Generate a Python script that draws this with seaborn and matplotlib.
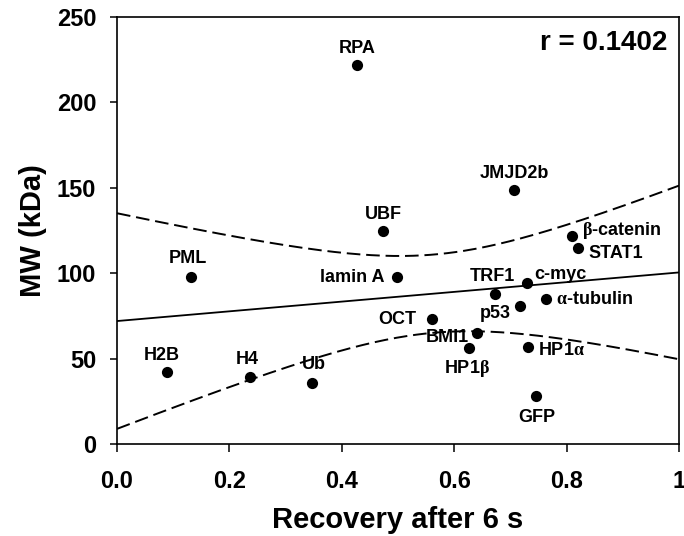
import numpy as np
import pandas as pd
import matplotlib
matplotlib.use("Agg")
import matplotlib.pyplot as plt
import seaborn as sns

# values
proteins = ["RPA", "JMJD2b", "UBF", "β-catenin", "STAT1", "PML", "lamin A",
            "TRF1", "c-myc", "α-tubulin", "p53", "OCT", "BMI1", "HP1β",
            "HP1α", "H2B", "H4", "Ub", "GFP"]
recovery = [0.427, 0.707, 0.474, 0.810, 0.820, 0.132, 0.498, 0.673, 0.729,
            0.764, 0.717, 0.560, 0.640, 0.627, 0.731, 0.089, 0.236, 0.347, 0.745]
mw = [222, 149, 125, 122, 115, 98, 98, 88, 94, 85, 81, 73, 65, 56, 57,
      42, 39, 36, 28]
r_text = "r = 0.1402"

x_ticks = [0.0, 0.2, 0.4, 0.6, 0.8, 1.0]
x_tick_labels = ["0.0", "0.2", "0.4", "0.6", "0.8", "1"]
y_ticks = [0, 50, 100, 150, 200, 250]

# label placement: (dx px, dy px downward, alignment)
label_pos = {
    "RPA": (0, -16, "center"), "JMJD2b": (0, -16, "center"),
    "UBF": (0, -16, "center"), "β-catenin": (10, -5, "left"),
    "STAT1": (11, 6, "left"), "PML": (-3, -18, "center"),
    "lamin A": (-12, 1, "right"), "TRF1": (-3, -17, "center"),
    "c-myc": (8, -9, "left"), "α-tubulin": (10, 1, "left"),
    "p53": (-9, 8, "right"), "OCT": (-15, 0, "right"),
    "BMI1": (-8, 5, "right"), "HP1β": (-2, 20, "center"),
    "HP1α": (10, 4, "left"), "H2B": (-5, -17, "center"),
    "H4": (-2, -18, "center"), "Ub": (2, -18, "center"),
    "GFP": (1, 21, "center"),
}

sns.set_style("ticks")
plt.rcParams["font.family"] = ["Liberation Sans", "DejaVu Sans"]
plt.rcParams["font.weight"] = "bold"
plt.rcParams["mathtext.fontset"] = "custom"
plt.rcParams["mathtext.rm"] = "Liberation Serif"
plt.rcParams["mathtext.it"] = "Liberation Serif"
for key in ["text.color", "axes.labelcolor", "xtick.color", "ytick.color"]:
    plt.rcParams[key] = "black"

df = pd.DataFrame({"protein": proteins, "recovery": recovery, "mw": mw})

# linear fit with 95% confidence band of the mean
x = df["recovery"].values
y = df["mw"].values
n = len(x)
slope, intercept = np.polyfit(x, y, 1)
resid = y - (intercept + slope * x)
s = np.sqrt((resid ** 2).sum() / (n - 2))
sxx = ((x - x.mean()) ** 2).sum()
t_val = 2.110  # t(0.975, df=17)
xg = np.linspace(0, 1, 200)
fit = intercept + slope * xg
hw = t_val * s * np.sqrt(1 / n + (xg - x.mean()) ** 2 / sxx)
band = pd.DataFrame({"x": xg, "fit": fit, "lo": fit - hw, "hi": fit + hw})

fig = plt.figure(figsize=(6.84, 5.36), dpi=100)
ax = fig.add_axes([117 / 684, 1 - 444 / 536, 562 / 684, 427 / 536])

sns.lineplot(data=band, x="x", y="fit", ax=ax, color="black", lw=1.3, estimator=None)
for col in ["hi", "lo"]:
    sns.lineplot(data=band, x="x", y=col, ax=ax, color="black", lw=1.4, estimator=None)
    ax.lines[-1].set_dashes([7, 3])

sns.scatterplot(data=df, x="recovery", y="mw", ax=ax, color="black", s=65,
                edgecolor="black", linewidth=0, zorder=3)

for name, xv, yv in zip(proteins, recovery, mw):
    dx, dy, ha = label_pos[name]
    txt = name.replace("α", r"$\mathrm{\alpha}$").replace("β", r"$\mathrm{\beta}$")
    ax.annotate(txt, (xv, yv), xytext=(dx * 0.72, -dy * 0.72),
                textcoords="offset points", ha=ha, va="center",
                fontsize=13, fontweight="bold")

ax.text(0.980, 0.939, r_text, transform=ax.transAxes, ha="right", va="center",
        fontsize=20, fontweight="bold")

ax.set_xlim(0, 1)
ax.set_ylim(0, 250)
ax.set_xticks(x_ticks)
ax.set_xticklabels(x_tick_labels)
ax.set_yticks(y_ticks)
ax.tick_params(axis="both", labelsize=17, width=1.1, direction="out", color="black")
ax.tick_params(axis="x", length=6, pad=13)
ax.tick_params(axis="y", length=5, pad=10)
for lab in ax.get_xticklabels() + ax.get_yticklabels():
    lab.set_fontweight("bold")
for sp in ax.spines.values():
    sp.set_visible(True)
    sp.set_linewidth(1.2)
    sp.set_color("black")

ax.set_xlabel("Recovery after 6 s", fontsize=21, fontweight="bold", labelpad=9)
ax.set_ylabel("MW (kDa)", fontsize=21, fontweight="bold", labelpad=7)

fig.savefig("out.png", dpi=100)
